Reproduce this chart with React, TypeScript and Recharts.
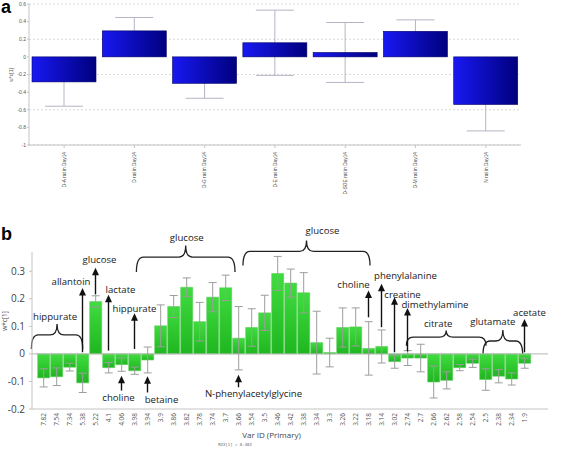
import {
  Bar,
  BarChart,
  CartesianGrid,
  ErrorBar,
  ReferenceArea,
  ReferenceLine,
  XAxis,
  YAxis,
} from "recharts";

// panel a: group loadings
const groups = [
  "D-A rat in Day14",
  "D rat in Day14",
  "D-G rat in Day14",
  "D-E rat in Day14",
  "D-SOE rat in Day14",
  "D-M rat in Day14",
  "N rat in Day14",
];
const groupLoadings = [-0.284, 0.295, -0.3, 0.16, 0.05, 0.29, -0.54];
const groupErrors = [0.276, 0.152, 0.17, 0.37, 0.34, 0.13, 0.3];
const groupTicks = [-1, -0.8, -0.6, -0.4, -0.2, 0, 0.2, 0.4, 0.6];

// panel b: variable loadings
const varIds = [
  "7.82", "7.54", "7.34", "5.38", "5.22", "4.1", "4.06", "3.98", "3.94", "3.9",
  "3.86", "3.82", "3.78", "3.74", "3.7", "3.66", "3.54", "3.5", "3.46", "3.42",
  "3.38", "3.34", "3.3", "3.26", "3.22", "3.18", "3.14", "3.02", "2.74", "2.7",
  "2.66", "2.62", "2.58", "2.54", "2.5", "2.38", "2.34", "1.9",
];
const varLoadings = [
  -0.087, -0.083, -0.048, -0.105, 0.19, -0.05, -0.039, -0.061, -0.022, 0.102,
  0.172, 0.242, 0.117, 0.206, 0.24, 0.057, 0.096, 0.149, 0.292, 0.257,
  0.222, 0.041, 0.005, 0.096, 0.098, 0.02, 0.027, -0.028, -0.015, -0.015,
  -0.102, -0.096, -0.05, -0.034, -0.093, -0.081, -0.091, -0.034,
];
const varErrors = [
  0.033, 0.032, 0.014, 0.035, 0.021, 0.019, 0.024, 0.013, 0.047, 0.076,
  0.04, 0.034, 0.07, 0.053, 0.046, 0.115, 0.068, 0.064, 0.062, 0.051,
  0.073, 0.114, 0.052, 0.071, 0.069, 0.097, 0.06, 0.024, 0.027, 0.05,
  0.058, 0.031, 0.011, 0.015, 0.039, 0.024, 0.022, 0.018,
];
const varTicks = [-0.2, -0.1, 0, 0.1, 0.2, 0.3];

type Arrow = { label: string; at: string; from: number; to: number; dx: number; dy: number };
const arrows: Arrow[] = [
  { label: "allantoin", at: "5.38", from: 0.006, to: 0.239, dx: -11.5, dy: -6 },
  { label: "glucose", at: "5.22", from: 0.216, to: 0.313, dx: 4, dy: -8 },
  { label: "lactate", at: "4.1", from: 0.012, to: 0.215, dx: 12, dy: -5 },
  { label: "hippurate", at: "3.98", from: 0.018, to: 0.148, dx: 0, dy: -5 },
  { label: "choline", at: "4.06", from: -0.133, to: -0.079, dx: -3, dy: 21.5 },
  { label: "betaine", at: "3.94", from: -0.14, to: -0.081, dx: 14, dy: 23.5 },
  { label: "N-phenylacetylglycine", at: "3.66", from: -0.121, to: -0.076, dx: 15, dy: 19 },
  { label: "choline", at: "3.18", from: 0.133, to: 0.23, dx: -15, dy: -6 },
  { label: "phenylalanine", at: "3.14", from: 0.097, to: 0.255, dx: 24, dy: -8.5 },
  { label: "creatine", at: "3.02", from: 0.006, to: 0.206, dx: 8, dy: -3 },
  { label: "dimethylamine", at: "2.74", from: 0.009, to: 0.167, dx: 27.5, dy: -3 },
  { label: "acetate", at: "1.9", from: 0.006, to: 0.127, dx: 5, dy: -6 },
];

type Brace = {
  label: string; start: string; end: string; low: number; high: number;
  padL: number; padR: number; dx: number; dy: number;
};
const braces: Brace[] = [
  { label: "hippurate", start: "7.82", end: "7.34", low: 0.018, high: 0.109, padL: 5.6, padR: 6.7, dx: -2, dy: -7.6 },
  { label: "glucose", start: "3.94", end: "3.7", low: 0.297, high: 0.394, padL: 4.6, padR: 3, dx: 1, dy: -7.3 },
  { label: "glucose", start: "3.54", end: "3.22", low: 0.321, high: 0.412, padL: 2, padR: 8, dx: 16, dy: -10 },
  { label: "citrate", start: "2.7", end: "2.54", low: 0.03, high: 0.085, padL: 7.6, padR: 7, dx: -8, dy: -7 },
  { label: "glutamate", start: "2.38", end: "2.34", low: -0.004, high: 0.087, padL: 9, padR: 4.7, dx: -10, dy: -8 },
];

const groupRows = groups.map((g, i) => ({ group: g, value: groupLoadings[i], err: groupErrors[i] }));
const varRows = varIds.map((v, i) => ({ id: v, value: varLoadings[i], err: varErrors[i] }));

const sans = "'Open Sans', 'Noto Sans', sans-serif";
const arial = "'Liberation Sans', Arial, sans-serif";

function GroupTick(props: any) {
  const { x, y, payload } = props;
  return (
    <text x={x} y={y} transform={`rotate(-90, ${x}, ${y})`} textAnchor="end" dy="0.35em"
      fontSize={4.8} fontFamily={arial} fill="#444">
      {payload.value}
    </text>
  );
}

function VarTick(props: any) {
  const { x, y, payload } = props;
  return (
    <text x={x} y={y} transform={`rotate(-90, ${x}, ${y})`} textAnchor="end" dy="0.35em"
      fontSize={6.5} fontFamily={sans} fill="#555">
      {payload.value}
    </text>
  );
}

// bar with its error bar drawn underneath, so the part inside the bar is hidden
function GroupBar(p: any) {
  const { x, y, width, height, payload } = p;
  const top = Math.min(y, y + height);
  const h = Math.abs(height);
  const v = payload.value;
  const unit = h / Math.abs(v);
  const end = v >= 0 ? top : top + h;
  const e = payload.err * unit;
  const cx = x + width / 2;
  const half = 19;
  const errColor = "#b4b4c6";
  return (
    <g>
      <line x1={cx} x2={cx} y1={end - e} y2={end + e} stroke={errColor} />
      <line x1={cx - half} x2={cx + half} y1={end - e} y2={end - e} stroke={errColor} />
      <line x1={cx - half} x2={cx + half} y1={end + e} y2={end + e} stroke={errColor} />
      <rect x={x} y={top} width={width} height={h} fill="url(#blueBar)" stroke="#000066" strokeWidth={0.6} />
    </g>
  );
}

function makeArrow(a: Arrow) {
  return function ArrowShape(p: any) {
    const x = p.x1;
    const top = Math.min(p.y1, p.y2);
    const base = Math.max(p.y1, p.y2);
    return (
      <g>
        <line x1={x} x2={x} y1={base} y2={top + 6} stroke="#111" strokeWidth={1.4} />
        <path d={`M${x},${top} L${x - 3.5},${top + 7.5} L${x + 3.5},${top + 7.5} Z`} fill="#111" />
        <text x={x + a.dx} y={top + a.dy} textAnchor="middle" dy="0.35em"
          fontSize={9.6} fontFamily={sans} fill="#1a1a1a">
          {a.label}
        </text>
      </g>
    );
  };
}

function makeBrace(b: Brace) {
  return function BraceShape(p: any) {
    const x0 = p.x - b.padL;
    const x1 = p.x + p.width + b.padR;
    const yt = p.y;
    const yb = p.y + p.height;
    const ym = yt + (yb - yt) * 0.44;
    const xm = (x0 + x1) / 2;
    const r = Math.min(7, (x1 - x0) / 4);
    const d =
      `M${x0},${yb} Q${x0},${ym} ${x0 + r},${ym} L${xm - r},${ym} Q${xm},${ym} ${xm},${yt}` +
      ` Q${xm},${ym} ${xm + r},${ym} L${x1 - r},${ym} Q${x1},${ym} ${x1},${yb}`;
    return (
      <g>
        <path d={d} fill="none" stroke="#222" strokeWidth={1.3} />
        <text x={xm + b.dx} y={yt + b.dy} textAnchor="middle" dy="0.35em"
          fontSize={9.6} fontFamily={sans} fill="#1a1a1a">
          {b.label}
        </text>
      </g>
    );
  };
}

export default function App() {
  return (
    <div style={{ position: "absolute", left: 0, top: 0, width: 567, height: 450, background: "#fff" }}>
      <div style={{ position: "absolute", left: 0, top: 0 }}>
        <BarChart width={567} height={195} data={groupRows} barCategoryGap={3}
          margin={{ top: 4, right: 46, left: 5, bottom: 5 }}>
          <defs>
            <linearGradient id="blueBar" x1="0" y1="0" x2="1" y2="0">
              <stop offset="0%" stopColor="#1818f2" />
              <stop offset="100%" stopColor="#00007e" />
            </linearGradient>
          </defs>
          <CartesianGrid vertical={false} stroke="#d9d9d9" strokeDasharray="2 2" />
          <XAxis dataKey="group" height={45} interval={0} tick={GroupTick}
            tickSize={3} tickMargin={4} stroke="#c4c4c4" />
          <YAxis type="number" domain={[-1, 0.6]} ticks={groupTicks} width={24} tickSize={2}
            tickMargin={1} stroke="#c4c4c4"
            tick={{ fontSize: 5, fill: "#555", fontFamily: arial }} />
          <Bar dataKey="value" shape={GroupBar} isAnimationActive={false} />
        </BarChart>
      </div>

      <div style={{ position: "absolute", left: 0, top: 190 }}>
        <BarChart width={567} height={260} data={varRows} barCategoryGap={0.7}
          margin={{ top: 62, right: 19, left: 5, bottom: 6 }}>
          <defs>
            <linearGradient id="greenBar" x1="0" y1="0" x2="0" y2="1">
              <stop offset="0%" stopColor="#3fdc3f" />
              <stop offset="100%" stopColor="#1fb61f" />
            </linearGradient>
          </defs>
          <XAxis dataKey="id" height={35} interval={0} tick={VarTick} tickLine={false}
            tickSize={2} tickMargin={2} stroke="#c4c4c4" padding={{ left: 5, right: 17 }} />
          <YAxis type="number" domain={[-0.2, 0.37]} ticks={varTicks} width={27} tickSize={3}
            tickMargin={4} stroke="#c4c4c4"
            tick={{ fontSize: 10, fill: "#444", fontFamily: sans }} />
          <ReferenceLine y={0} stroke="#b5b5b5" />
          <Bar dataKey="value" fill="url(#greenBar)" stroke="#5ccf5c" strokeWidth={0.6}
            isAnimationActive={false}>
            <ErrorBar dataKey="err" width={4} stroke="#9d9d9d" strokeWidth={1} direction="y" />
          </Bar>
          {braces.map((b, i) => (
            <ReferenceArea key={`brace-${i}`} x1={b.start} x2={b.end} y1={b.low} y2={b.high}
              ifOverflow="visible" shape={makeBrace(b)} />
          ))}
          {arrows.map((a, i) => (
            <ReferenceLine key={`arrow-${i}`} ifOverflow="visible"
              segment={[{ x: a.at, y: a.from }, { x: a.at, y: a.to }]} shape={makeArrow(a)} />
          ))}
        </BarChart>
      </div>

      <svg width={567} height={450} style={{ position: "absolute", left: 0, top: 0, pointerEvents: "none" }}>
        <text x={1} y={13} fontSize={18} fontWeight="bold" fontFamily={arial} fill="#000">a</text>
        <text x={1} y={240} fontSize={18} fontWeight="bold" fontFamily={arial} fill="#000">b</text>
        <text x={11.5} y={75} transform="rotate(-90, 11.5, 75)" textAnchor="middle" dy="0.35em"
          fontSize={5} fontFamily={arial} fill="#555">w*c[1]</text>
        <text x={5} y={321} transform="rotate(-90, 5, 321)" textAnchor="middle" dy="0.35em"
          fontSize={6.5} fontFamily={sans} fill="#444">w*c[1]</text>
        <text x={271.5} y={435} textAnchor="middle" dy="0.35em" fontSize={8} fontFamily={sans}
          fill="#444">Var ID (Primary)</text>
        <text x={235} y={444.7} textAnchor="middle" dy="0.35em" fontSize={4}
          fontFamily="'DejaVu Sans Mono', monospace" fill="#666">R2X[1] = 0.482</text>
      </svg>
    </div>
  );
}
